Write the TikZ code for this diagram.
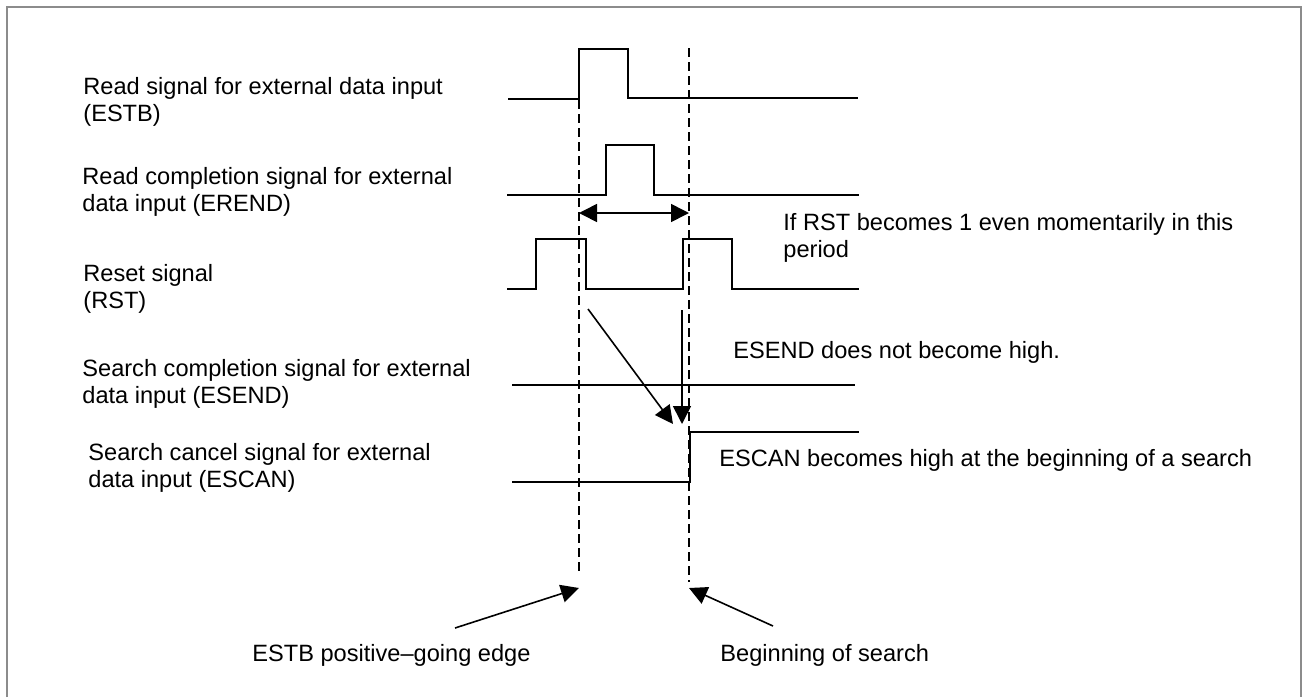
\documentclass[tikz,border=0pt]{standalone}
\usepackage{fontspec}
\setmainfont{Liberation Sans}
\usetikzlibrary{arrows.meta}

\begin{document}
\begin{tikzpicture}[
  x=0.5pt,y=-0.5pt,
  wave/.style={line width=1pt},
  guide/.style={line width=1pt,dash pattern=on 4.5pt off 2.5pt},
  callout/.style={line width=0.8pt,-{Triangle[length=9pt,width=9pt]}},
  span/.style={line width=0.8pt,{Triangle[length=9pt,width=9pt]}-{Triangle[length=9pt,width=9pt]}},
  sigtext/.style={anchor=base west,inner sep=0pt,align=left,
    font=\fontsize{11.8}{13.3}\selectfont}
]
  \useasboundingbox (0,0) rectangle (1302,697);

  % Frame
  \draw[line width=1pt,black!45] (7,697) -- (7,7) -- (1301,7) -- (1301,697);

  % Waveforms
  \draw[wave] (508,99) -- (579,99) -- (579,49) -- (628,49) -- (628,98) -- (858,98);
  \draw[wave] (507,195) -- (606,195) -- (606,145) -- (654,145) -- (654,195) -- (859,195);
  \draw[wave] (507,289) -- (536,289) -- (536,239) -- (586,239) -- (586,289)
    -- (683,289) -- (683,239) -- (732,239) -- (732,289) -- (859,289);
  \draw[wave] (512,385) -- (855,385);
  \draw[wave] (512,482) -- (690,482) -- (690,432) -- (859,432);

  % Timing guides
  \coordinate (g1top) at (579,100);
  \coordinate (g1bot) at (579,573);
  \coordinate (g2top) at (689,48);
  \coordinate (g2bot) at (689,582);
  \draw[guide] (g1top) -- (g1bot);
  \draw[guide] (g2top) -- (g2bot);

  % Period and effects
  \coordinate (pa) at (579,213);
  \coordinate (pb) at (689,213);
  \draw[span] (pa) -- (pb);
  \coordinate (rsta) at (588,309);
  \coordinate (rstb) at (682,310);
  \coordinate (hita) at (673,424);
  \coordinate (hitb) at (682,424);
  \draw[callout] (rsta) -- (hita);
  \draw[callout] (rstb) -- (hitb);

  % Signal names (anchored on the last line)
  \node[sigtext] (estb) at (83,121) {Read signal for external data input\\(ESTB)};
  \node[sigtext] (erend) at (82,211) {Read completion signal for external\\data input (EREND)};
  \node[sigtext] (rst) at (83,308) {Reset signal\\(RST)};
  \node[sigtext] (esend) at (82,403) {Search completion signal for external\\data input (ESEND)};
  \node[sigtext] (escan) at (88,487) {Search cancel signal for external\\data input (ESCAN)};

  % Notes
  \node[sigtext] (period) at (783,257) {If RST becomes 1 even momentarily in this\\period};
  \node[sigtext] (nohigh) at (733,358) {ESEND does not become high.};
  \node[sigtext] (gohigh) at (719,466) {ESCAN becomes high at the beginning of a search};
  \node[sigtext] (posedge) at (252,661) {ESTB positive–going edge};
  \node[sigtext] (search) at (720,661) {Beginning of search};

  \coordinate (t1) at (455,628);
  \coordinate (t2) at (773,626);
  \coordinate (h1) at (579,588);
  \coordinate (h2) at (689,588);
  \draw[callout] (t1) -- (h1);
  \draw[callout] (t2) -- (h2);
\end{tikzpicture}
\end{document}
